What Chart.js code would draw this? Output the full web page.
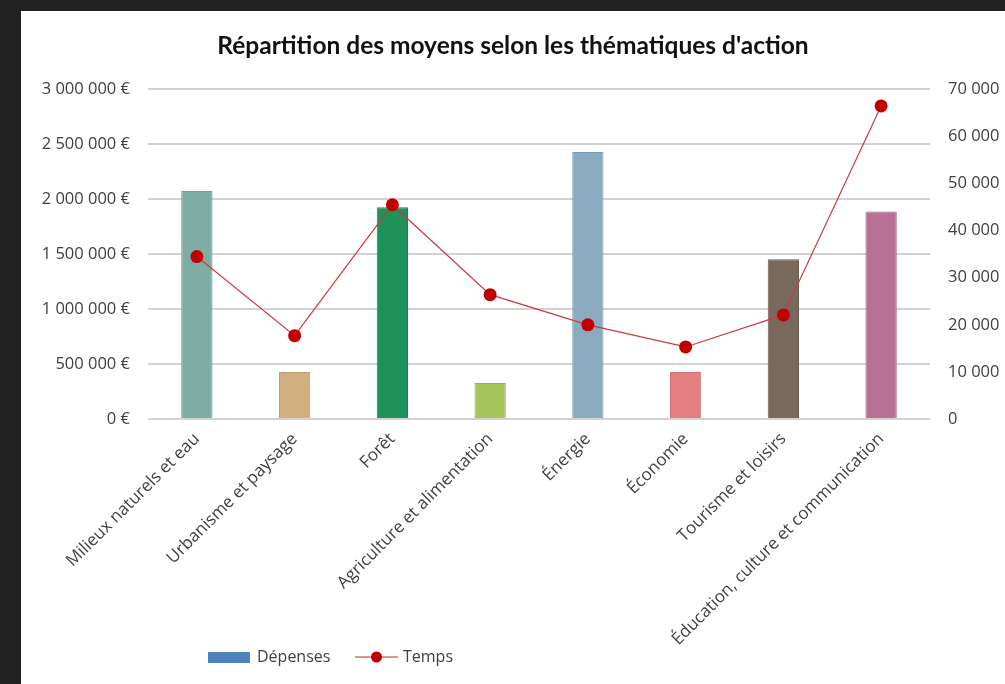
<!DOCTYPE html>
<html lang="fr">
<head>
<meta charset="utf-8">
<script src="https://cdn.jsdelivr.net/npm/chart.js@4/dist/chart.umd.min.js"></script>
<style>
  html, body { margin: 0; padding: 0; background: #212121; }
  #cadre { position: absolute; left: 21px; top: 11px; width: 984px; height: 673px; background: #fff; }
</style>
</head>
<body>
<div id="cadre"><canvas id="graphique" width="984" height="673"></canvas></div>
<script>
const themes = [
  'Milieux naturels et eau',
  'Urbanisme et paysage',
  'Forêt',
  'Agriculture et alimentation',
  'Énergie',
  'Économie',
  'Tourisme et loisirs',
  'Éducation, culture et communication'
];
const depenses = [2075000, 427000, 1928000, 327000, 2430000, 427000, 1455000, 1888000];
const temps = [34500, 17700, 45500, 26400, 20000, 15300, 22100, 66500];
const couleursBarres = ['#7FADA5', '#D2AF7F', '#1F915A', '#A5C45C', '#8AABC0', '#E58080', '#78695C', '#B87095'];
const bordsBarres = ['#729c95', '#bd9e72', '#1c8351', '#95b053', '#7c9aad', '#ce7373', '#6c5f53', '#a66586'];

const police = '"Open Sans", sans-serif';
const policeTitre = 'Lato, sans-serif';
const gris = '#404040';

function formatEuro(v) {
  return String(v).replace(/\B(?=(\d{3})+(?!\d))/g, ' ') + ' €';
}
function formatNombre(v) {
  return String(v).replace(/\B(?=(\d{3})+(?!\d))/g, ' ');
}

// légende dessinée à la main (position comme dans Excel)
const legendeManuelle = {
  id: 'legendeManuelle',
  afterDraw(chart) {
    const ctx = chart.ctx;
    ctx.save();
    ctx.fillStyle = '#4F81BD';
    ctx.fillRect(187, 641, 42, 11);
    ctx.font = '16px ' + police;
    ctx.fillStyle = gris;
    ctx.textBaseline = 'middle';
    ctx.fillText('Dépenses', 236, 646);
    ctx.strokeStyle = '#B03030';
    ctx.lineWidth = 1.2;
    ctx.beginPath();
    ctx.moveTo(334, 646);
    ctx.lineTo(377, 646);
    ctx.stroke();
    ctx.fillStyle = '#C00000';
    ctx.beginPath();
    ctx.arc(355.5, 646, 5.5, 0, Math.PI * 2);
    ctx.fill();
    ctx.fillStyle = gris;
    ctx.fillText('Temps', 382, 646);
    ctx.restore();
  }
};

new Chart(document.getElementById('graphique'), {
  data: {
    labels: themes,
    datasets: [
      {
        type: 'line',
        label: 'Temps',
        data: temps,
        yAxisID: 'yTemps',
        borderColor: '#CC3B3B',
        borderWidth: 1.2,
        pointRadius: 6.5,
        pointBackgroundColor: '#C00000',
        pointBorderWidth: 0,
        tension: 0,
        order: 0
      },
      {
        type: 'bar',
        label: 'Dépenses',
        data: depenses,
        yAxisID: 'yDepenses',
        backgroundColor: couleursBarres,
        borderColor: bordsBarres,
        borderWidth: 1,
        categoryPercentage: 1,
        barPercentage: 0.32,
        order: 1
      }
    ]
  },
  options: {
    responsive: false,
    animation: false,
    layout: { padding: 0 },
    plugins: {
      legend: { display: false },
      tooltip: { enabled: false },
      title: {
        display: true,
        text: "Répartition des moyens selon les thématiques d'action",
        color: '#111',
        font: { family: policeTitre, size: 24.5, weight: 'bold', lineHeight: 1.2 },
        padding: { top: 20, bottom: 29 }
      }
    },
    scales: {
      x: {
        grid: { display: false },
        border: { display: false },
        ticks: {
          color: gris,
          font: { family: police, size: 17 },
          maxRotation: 45,
          minRotation: 45,
          autoSkip: false,
          padding: 2
        },
        afterFit(axis) { axis.height = 265; }
      },
      yDepenses: {
        position: 'left',
        min: 0,
        max: 3000000,
        grid: { color: '#D2D2D2', lineWidth: 2, drawTicks: false },
        border: { display: false },
        ticks: {
          stepSize: 500000,
          color: gris,
          font: { family: police, size: 16.5 },
          padding: 18,
          callback: v => formatEuro(v)
        },
        afterFit(axis) { axis.width = 127; }
      },
      yTemps: {
        position: 'right',
        min: 0,
        max: 70000,
        grid: { display: false, drawTicks: false },
        border: { display: false },
        ticks: {
          stepSize: 10000,
          color: gris,
          font: { family: police, size: 16.5 },
          padding: 18,
          callback: v => formatNombre(v)
        },
        afterFit(axis) { axis.width = 75; }
      }
    }
  },
  plugins: [legendeManuelle]
});
</script>
</body>
</html>
